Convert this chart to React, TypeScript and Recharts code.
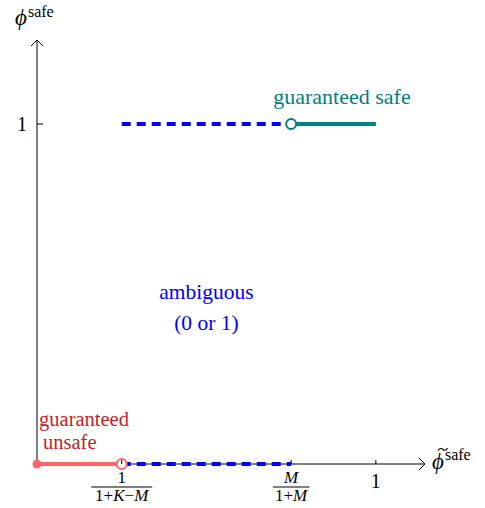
import React from "react";
import { LineChart, Line, XAxis, YAxis, ReferenceDot } from "recharts";

const X_MAX = 1.145;
const Y_MAX = 1.247;

const xTicks = [0.25, 0.75, 1];
const xTickLabels = ["1/1+K−M", "M/1+M", "1"];
const yTicks = [1];
const yTickLabels = ["1"];

// axis lines, drawn as series so that the coloured segments sit on top
const xAxisLine = [
  { x: 0, y: 0 },
  { x: X_MAX, y: 0 },
];
const yAxisLine = [
  { x: 0, y: 0 },
  { x: 0, y: Y_MAX },
];

// segments of phi_safe as a function of tilde phi_safe
const unsafeSeg = [
  { x: 0, y: 0 },
  { x: 0.25, y: 0 },
];
const ambiguousLow = [
  { x: 0.25, y: 0 },
  { x: 0.75, y: 0 },
];
const ambiguousHigh = [
  { x: 0.25, y: 1 },
  { x: 0.75, y: 1 },
];
const safeSeg = [
  { x: 0.75, y: 1 },
  { x: 1, y: 1 },
];

const FONT = "'Liberation Serif', 'DejaVu Serif', serif";
const RED_LINE = "#ff6666";
const RED_TEXT = "#c41e24";
const TEAL = "#008080";
const BLUE = "#0000ff";

// italic for variable letters
const mathText = (s: string) =>
  s.split("").map((c, i) =>
    /[A-Za-z]/.test(c) ? (
      <tspan key={i} fontStyle="italic">
        {c}
      </tspan>
    ) : (
      <tspan key={i}>{c}</tspan>
    )
  );

const XTick = (props: any) => {
  const { x, y, payload } = props;
  const idx = xTicks.indexOf(payload.value);
  const label = xTickLabels[idx] ?? "";
  const parts = label.split("/");
  return (
    <g>
      <line x1={x} x2={x} y1={y} y2={y - 4} stroke="#000" strokeWidth={1} />
      {parts.length === 2 ? (
        <g fontFamily={FONT} fontSize={17} fill="#000" textAnchor="middle">
          <text x={x} y={y + 19}>{mathText(parts[0])}</text>
          <line
            x1={x - parts[1].length * 6.1}
            x2={x + parts[1].length * 6.1}
            y1={y + 23}
            y2={y + 23}
            stroke="#000"
            strokeWidth={1}
          />
          <text x={x} y={y + 37}>{mathText(parts[1])}</text>
        </g>
      ) : (
        <text x={x} y={y + 24} fontFamily={FONT} fontSize={20} textAnchor="middle" fill="#000">
          {label}
        </text>
      )}
    </g>
  );
};

const YTick = (props: any) => {
  const { x, y, payload } = props;
  const label = yTickLabels[yTicks.indexOf(payload.value)] ?? "";
  return (
    <g>
      <line x1={x} x2={x + 6} y1={y} y2={y} stroke="#000" strokeWidth={1} />
      <text x={x - 15} y={y + 7} fontFamily={FONT} fontSize={20} textAnchor="middle" fill="#000">
        {label}
      </text>
    </g>
  );
};

const endDots = (color: string, filled: boolean[]) => (props: any) => {
  const { cx, cy, index } = props;
  if (filled[index] === undefined) return <g key={`d-${index}`} />;
  return filled[index] ? (
    <circle key={`d-${index}`} cx={cx} cy={cy} r={4.5} fill={color} stroke="none" />
  ) : (
    <circle key={`d-${index}`} cx={cx} cy={cy} r={5} fill="#fff" stroke={color} strokeWidth={2} />
  );
};

const XArrow = (props: any) => {
  const { cx, cy } = props;
  const tx = cx + 13;
  const ty = cy - 15;
  return (
    <g>
      <path d={`M${cx - 6} ${cy - 6} L${cx} ${cy} L${cx - 6} ${cy + 6}`} fill="none" stroke="#000" strokeWidth={1} />
      <path
        d={`M${tx} ${ty + 1.5} C${tx + 2} ${ty - 1.5} ${tx + 4} ${ty - 0.5} ${tx + 5} ${ty + 0.5} S${tx + 8} ${ty + 2} ${tx + 9.5} ${ty - 1}`}
        fill="none"
        stroke="#000"
        strokeWidth={1.1}
      />
      <text x={cx + 7} y={cy + 5} fontFamily={FONT} fill="#000">
        <tspan fontSize={23} fontStyle="italic">ϕ</tspan>
        <tspan fontSize={16} dx={1} dy={-9}>safe</tspan>
      </text>
    </g>
  );
};

const YArrow = (props: any) => {
  const { cx, cy } = props;
  return (
    <g>
      <path d={`M${cx - 6} ${cy + 6} L${cx} ${cy} L${cx + 6} ${cy + 6}`} fill="none" stroke="#000" strokeWidth={1} />
      <text x={cx - 22} y={cy - 15} fontFamily={FONT} fill="#000">
        <tspan fontSize={23} fontStyle="italic">ϕ</tspan>
        <tspan fontSize={16} dx={1} dy={-8}>safe</tspan>
      </text>
    </g>
  );
};

const Note = (lines: string[], color: string, anchor: string, size: number, gap: number, indent = 0) => (props: any) => {
  const { cx, cy } = props;
  return (
    <text x={cx} y={cy} fontFamily={FONT} fontSize={size} fill={color} textAnchor={anchor}>
      {lines.map((l, i) => (
        <tspan key={i} x={cx + (i > 0 ? indent : 0)} dy={i === 0 ? 0 : gap}>
          {l}
        </tspan>
      ))}
    </text>
  );
};

export default function App() {
  return (
    <div style={{ position: "absolute", left: 0, top: 0, background: "#fff" }}>
      <LineChart
        width={485}
        height={508}
        margin={{ top: 40, right: 60, bottom: 0, left: 0 }}
      >
        <XAxis
          type="number"
          dataKey="x"
          domain={[0, X_MAX]}
          ticks={xTicks}
          height={44}
          tickSize={0}
          tickMargin={0}
          tick={<XTick />}
          axisLine={false}
          tickLine={false}
        />
        <YAxis
          type="number"
          dataKey="y"
          domain={[0, Y_MAX]}
          ticks={yTicks}
          width={37}
          tickSize={0}
          tickMargin={0}
          tick={<YTick />}
          axisLine={false}
          tickLine={false}
        />
        <Line data={xAxisLine} dataKey="y" stroke="#000" strokeWidth={1} dot={false} isAnimationActive={false} />
        <Line data={yAxisLine} dataKey="y" stroke="#000" strokeWidth={1} dot={false} isAnimationActive={false} />
        <Line data={ambiguousLow} dataKey="y" stroke={BLUE} strokeWidth={4} strokeDasharray="9 6" dot={false} isAnimationActive={false} />
        <Line data={ambiguousHigh} dataKey="y" stroke={BLUE} strokeWidth={4} strokeDasharray="9 6" dot={false} isAnimationActive={false} />
        <Line data={unsafeSeg} dataKey="y" stroke={RED_LINE} strokeWidth={4} dot={endDots(RED_LINE, [true, false])} isAnimationActive={false} />
        <Line data={safeSeg} dataKey="y" stroke={TEAL} strokeWidth={4} dot={endDots(TEAL, [false])} isAnimationActive={false} />
        <ReferenceDot x={X_MAX} y={0} ifOverflow="visible" shape={XArrow} />
        <ReferenceDot x={0} y={Y_MAX} ifOverflow="visible" shape={YArrow} />
        <ReferenceDot x={0.9} y={1.059} ifOverflow="visible" shape={Note(["guaranteed safe"], TEAL, "middle", 22, 0)} />
        <ReferenceDot x={0.5} y={0.485} ifOverflow="visible" shape={Note(["ambiguous", "(0 or 1)"], BLUE, "middle", 21.5, 31)} />
        <ReferenceDot x={0.006} y={0.112} ifOverflow="visible" shape={Note(["guaranteed", "unsafe"], RED_TEXT, "start", 20.5, 23, 4)} />
      </LineChart>
    </div>
  );
}
